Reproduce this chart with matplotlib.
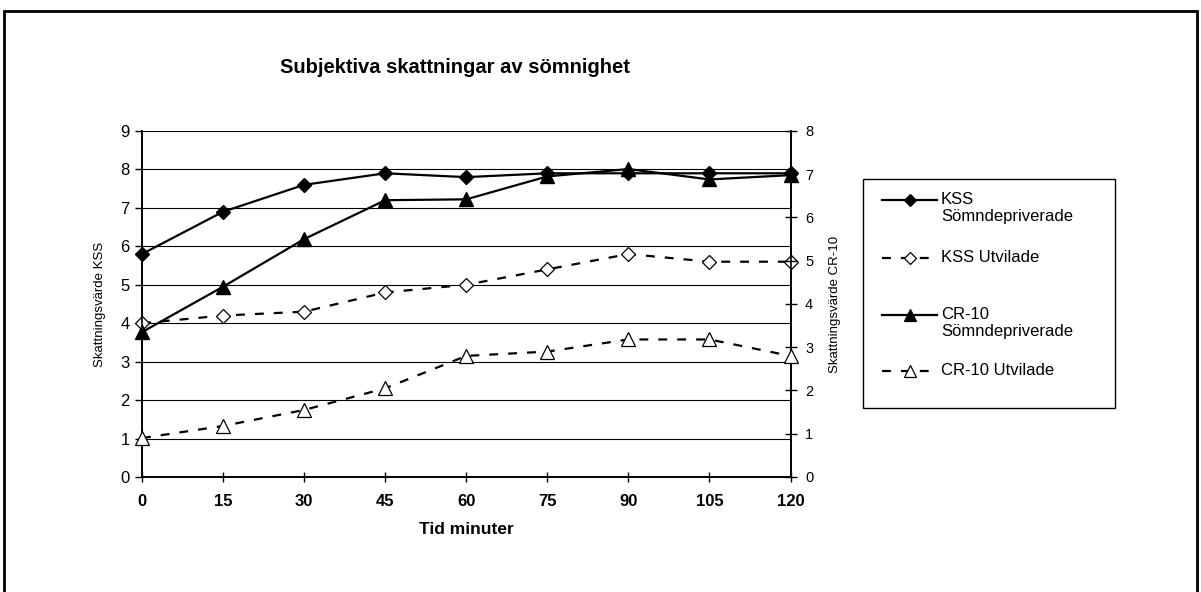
import matplotlib

matplotlib.use("Agg")

import matplotlib.pyplot as plt
from matplotlib.lines import Line2D
from matplotlib.patches import Rectangle

plt.rcParams["font.family"] = ["Liberation Sans", "DejaVu Sans"]

minutes = [0, 15, 30, 45, 60, 75, 90, 105, 120]
kss_deprived = [5.8, 6.9, 7.6, 7.9, 7.8, 7.9, 7.9, 7.9, 7.9]
kss_rested = [4.0, 4.2, 4.3, 4.8, 5.0, 5.4, 5.8, 5.6, 5.6]
cr10_deprived = [3.35, 4.4, 5.5, 6.4, 6.42, 6.95, 7.12, 6.88, 6.98]
cr10_rested = [0.9, 1.18, 1.55, 2.05, 2.8, 2.9, 3.18, 3.18, 2.8]

labels = [
    "KSS\nSömndepriverade",
    "KSS Utvilade",
    "CR-10\nSömndepriverade",
    "CR-10 Utvilade",
]

W, H = 1201, 592


def main() -> None:
    fig = plt.figure(figsize=(W / 100, H / 100), dpi=100)
    fig.patch.set_facecolor("white")

    # outer frame around the whole chart
    fig.add_artist(
        Rectangle((4 / W, -0.01), 1193 / W, 1 - 11 / H + 0.01, transform=fig.transFigure,
                  fill=False, edgecolor="black", linewidth=2.0)
    )

    ax = fig.add_axes([142 / W, 1 - 477 / H, (790.5 - 142) / W, (477 - 131) / H])
    ax2 = ax.twinx()

    dash = (0, (4, 4.5))
    lw = 1.6
    ax.plot(minutes, kss_deprived, color="black", lw=lw, marker="D", ms=7,
            mfc="black", mec="black", zorder=5, clip_on=False)
    ax.plot(minutes, kss_rested, color="black", lw=lw, ls=dash, marker="D", ms=7,
            mfc="white", mec="black", mew=0.9, zorder=5, clip_on=False)
    ax2.plot(minutes, cr10_deprived, color="black", lw=lw, marker="^", ms=9.5,
             mfc="black", mec="black", zorder=5, clip_on=False)
    ax2.plot(minutes, cr10_rested, color="black", lw=lw, ls=dash, marker="^", ms=9.5,
             mfc="white", mec="black", mew=0.9, zorder=5, clip_on=False)

    ax.set_xlim(0, 120)
    ax.set_ylim(0, 9)
    ax2.set_ylim(0, 8)
    ax.set_xticks(minutes)
    ax.set_xticklabels([str(m) for m in minutes], fontweight="bold", fontsize=12)
    ax.set_yticks(range(10))
    ax2.set_yticks(range(9))
    ax.tick_params(axis="y", direction="out", length=5, width=1, labelsize=12, pad=4)
    ax.tick_params(axis="x", direction="inout", length=7, width=1, pad=9)
    ax2.tick_params(axis="y", direction="inout", length=9, width=1, labelsize=10.5, pad=6)

    ax.grid(axis="y", color="black", linewidth=0.8)
    ax.set_axisbelow(True)
    for a in (ax, ax2):
        a.spines["top"].set_visible(False)
        a.spines["left"].set_linewidth(1.2)
        a.spines["right"].set_linewidth(1.2)
        a.spines["bottom"].set_linewidth(1.2)

    ax.set_xlabel("Tid minuter", fontweight="bold", fontsize=12.5, labelpad=9)
    ax.set_ylabel("Skattningsvärde KSS", fontsize=9.5, labelpad=10)
    ax2.set_ylabel("Skattningsvärde CR-10", fontsize=9.5, labelpad=11)

    fig.text(455 / W, 1 - 73 / H, "Subjektiva skattningar av sömnighet",
             ha="center", va="baseline", fontweight="bold", fontsize=14.5)

    # legend box drawn by hand to keep the marker on the first text line
    lax = fig.add_axes([0, 0, 1, 1], facecolor="none")
    lax.set_xlim(0, W)
    lax.set_ylim(H, 0)
    lax.axis("off")
    lax.add_patch(Rectangle((863, 179), 252, 229, fill=False, edgecolor="black", lw=1.0))
    styles = [
        dict(ls="-", marker="D", ms=6, mfc="black"),
        dict(ls=dash, marker="D", ms=6, mfc="white"),
        dict(ls="-", marker="^", ms=8, mfc="black"),
        dict(ls=dash, marker="^", ms=8, mfc="white"),
    ]
    ys = [200, 258, 315, 371]
    for y, label, st in zip(ys, labels, styles):
        lax.add_line(Line2D([882, 937], [y, y], color="black", lw=1.6, ls=st["ls"]))
        lax.add_line(Line2D([909.5], [y], color="black", marker=st["marker"], ms=st["ms"],
                            mfc=st["mfc"], mec="black", mew=0.9))
        lax.text(941, y - 8, label, ha="left", va="top", fontsize=12, linespacing=1.15)

    fig.savefig("out.png", dpi=100)
    plt.close(fig)


if __name__ == "__main__":
    main()
